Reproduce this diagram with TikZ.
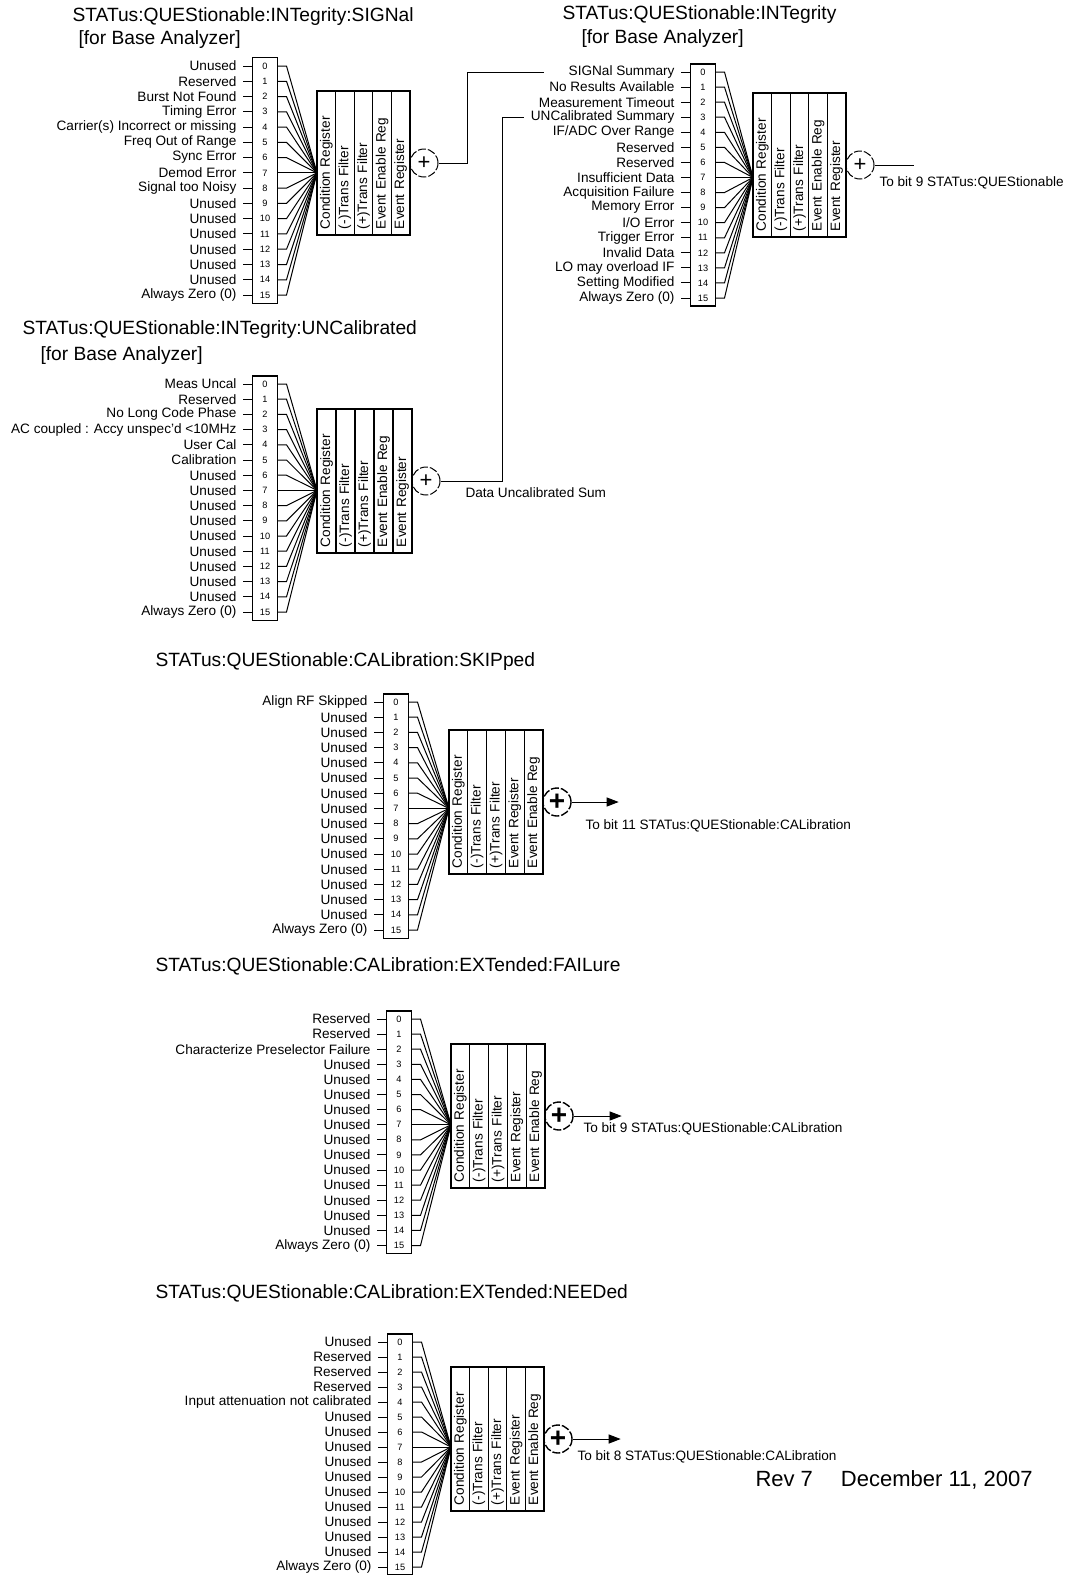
\documentclass[tikz,border=0pt]{standalone}
\usepackage{fontspec}
\setmainfont{Liberation Sans}
\usetikzlibrary{arrows.meta}
\newcommand{\labfont}{\fontsize{6.8}{7.5}\selectfont}
\newcommand{\titfont}{\fontsize{9.6}{11}\selectfont}
\newcommand{\numfont}{\fontsize{4.6}{5}\selectfont}

% one column of 16 bits: id, box x, y of bit 0, pitch, join x, bit names
\newcommand{\bitblock}[6]{%
  \coordinate (#1j) at (#5, #3+7*#4);
  \foreach \lab [count=\n from 0] in {#6} {
    \node[bitcell, minimum height=#4*0.5pt] (#1b\n) at (#2+12, #3+\n*#4) {\n};
    \node[bitlab] (#1l\n) at (#2-10, #3+\n*#4) {\lab};
    \draw (#1l\n.east) -- (#1b\n.west);
    \draw (#1b\n.east) -- ++(9,0) -- (#1j);
  }
  \draw[boxline] (#1b0.north west) rectangle (#1b15.south east);
}
% the five register columns: id, left x, middle y, column width, names
\newcommand{\regblock}[5]{%
  \foreach \lab [count=\k] in {#5}
    \node[regcol, minimum height=#4*0.5pt] (#1r\k) at (#2+\k*#4-#4/2, #3) {\lab};
}

\begin{document}
\begin{tikzpicture}[x=0.5pt, y=-0.5pt, line width=0.5pt,
    bitcell/.style={minimum width=12pt, inner sep=0pt, font=\numfont},
    bitlab/.style={anchor=east, inner sep=3pt, font=\labfont},
    boxline/.style={line width=0.6pt},
    regcol/.style={draw, line width=0.6pt, rotate=90, text width=66pt, align=left,
                   inner xsep=3pt, inner ysep=0pt, font=\labfont},
    sumnode/.style={draw, circle, dash pattern=on 4pt off 1pt, minimum size=14pt,
                    inner sep=0pt, font=\fontsize{11}{11}\selectfont},
    sumbold/.style={sumnode, line width=0.7pt, font=\fontsize{14}{14}\selectfont\bfseries},
    title/.style={anchor=west, inner sep=0pt, font=\titfont},
    note/.style={anchor=west, inner sep=0pt, font=\labfont},
    sumarrow/.style={-{Triangle[length=6pt, width=4.5pt]}}]
  \useasboundingbox (0,0) rectangle (1075,1575);

  % INTegrity:SIGNal
  \node[title] (t1) at (72,17) {STATus:QUEStionable:INTegrity:SIGNal};
  \node[title] (t1b) at (78,40) {[for Base Analyzer]};
  \bitblock{g1}{253}{66}{15.27}{317}{Unused, Reserved, Burst Not Found, Timing Error,
    Carrier(s) Incorrect or missing, Freq Out of Range, Sync Error, Demod Error,
    Signal too Noisy, Unused, Unused, Unused, Unused, Unused, Unused, Always Zero (0)}
  \regblock{g1}{317}{163}{18.6}{Condition Register, (-)Trans Filter, (+)Trans Filter,
    Event Enable Reg, Event Register}
  \node[sumnode] (g1s) at (424,163) {+};

  % INTegrity
  \node[title] (t2) at (562,15) {STATus:QUEStionable:INTegrity};
  \node[title] (t2b) at (581,39) {[for Base Analyzer]};
  \bitblock{g2}{691}{72}{15.07}{753}{SIGNal Summary, No Results Available,
    Measurement Timeout, UNCalibrated Summary, IF/ADC Over Range, Reserved, Reserved,
    Insufficient Data, Acquisition Failure, Memory Error, I/O Error, Trigger Error,
    Invalid Data, LO may overload IF, Setting Modified, Always Zero (0)}
  \regblock{g2}{753}{165}{18.6}{Condition Register, (-)Trans Filter, (+)Trans Filter,
    Event Enable Reg, Event Register}
  \node[sumnode] (g2s) at (860,165) {+};
  \draw (g2s.east) -- ++(39,0);
  \node[note] (g2t) at (879,183) {To bit 9 STATus:QUEStionable};

  % INTegrity:UNCalibrated
  \node[title] (t3) at (22,330) {STATus:QUEStionable:INTegrity:UNCalibrated};
  \node[title] (t3b) at (40,356) {[for Base Analyzer]};
  \bitblock{g3}{253}{384}{15.2}{317}{Meas Uncal, Reserved, No Long Code Phase,
    AC coupled : Accy unspec'd <10MHz, User Cal, Calibration, Unused, Unused, Unused,
    Unused, Unused, Unused, Unused, Unused, Unused, Always Zero (0)}
  \regblock{g3}{317}{481}{19}{Condition Register, (-)Trans Filter, (+)Trans Filter,
    Event Enable Reg, Event Register}
  \node[sumnode] (g3s) at (426,481) {+};
  \node[note] (g3t) at (465,493) {Data Uncalibrated Sum};

  % summaries into INTegrity
  \draw (g1s.east) -| ([xshift=-47.5pt]g2l0.west) -- ([xshift=-9pt]g2l0.west);
  \draw (g3s.east) -| ([xshift=-11pt]g2l3.west) -- (g2l3.west);

  % CALibration:SKIPped
  \node[title] (t4) at (155,662) {STATus:QUEStionable:CALibration:SKIPped};
  \bitblock{g4}{384}{702}{15.2}{449}{Align RF Skipped, Unused, Unused, Unused, Unused,
    Unused, Unused, Unused, Unused, Unused, Unused, Unused, Unused, Unused, Unused,
    Always Zero (0)}
  \regblock{g4}{449}{802}{18.8}{Condition Register, (-)Trans Filter, (+)Trans Filter,
    Event Register, Event Enable Reg}
  \node[sumbold] (g4s) at (557,802) {+};
  \draw[sumarrow] (g4s.east) -- ++(47,0);
  \node[note] (g4t) at (585,826) {To bit 11 STATus:QUEStionable:CALibration};

  % CALibration:EXTended:FAILure
  \node[title] (t5) at (155,966) {STATus:QUEStionable:CALibration:EXTended:FAILure};
  \bitblock{g5}{387}{1019}{15.1}{451}{Reserved, Reserved, Characterize Preselector Failure,
    Unused, Unused, Unused, Unused, Unused, Unused, Unused, Unused, Unused, Unused,
    Unused, Unused, Always Zero (0)}
  \regblock{g5}{451}{1116}{18.8}{Condition Register, (-)Trans Filter, (+)Trans Filter,
    Event Register, Event Enable Reg}
  \node[sumbold] (g5s) at (559,1116) {+};
  \draw[sumarrow] (g5s.east) -- ++(48,0);
  \node[note] (g5t) at (583,1129) {To bit 9 STATus:QUEStionable:CALibration};

  % CALibration:EXTended:NEEDed
  \node[title] (t6) at (155,1293) {STATus:QUEStionable:CALibration:EXTended:NEEDed};
  \bitblock{g6}{388}{1342}{15.0}{451}{Unused, Reserved, Reserved, Reserved,
    Input attenuation not calibrated, Unused, Unused, Unused, Unused, Unused, Unused,
    Unused, Unused, Unused, Unused, Always Zero (0)}
  \regblock{g6}{451}{1439}{18.6}{Condition Register, (-)Trans Filter, (+)Trans Filter,
    Event Register, Event Enable Reg}
  \node[sumbold] (g6s) at (558,1439) {+};
  \draw[sumarrow] (g6s.east) -- ++(48,0);
  \node[note] (g6t) at (577,1457) {To bit 8 STATus:QUEStionable:CALibration};

  \node[anchor=west, inner sep=0pt, font=\fontsize{11}{13}\selectfont] (rev) at (755,1480)
    {Rev 7\hspace{14pt}December 11, 2007};
\end{tikzpicture}
\end{document}
